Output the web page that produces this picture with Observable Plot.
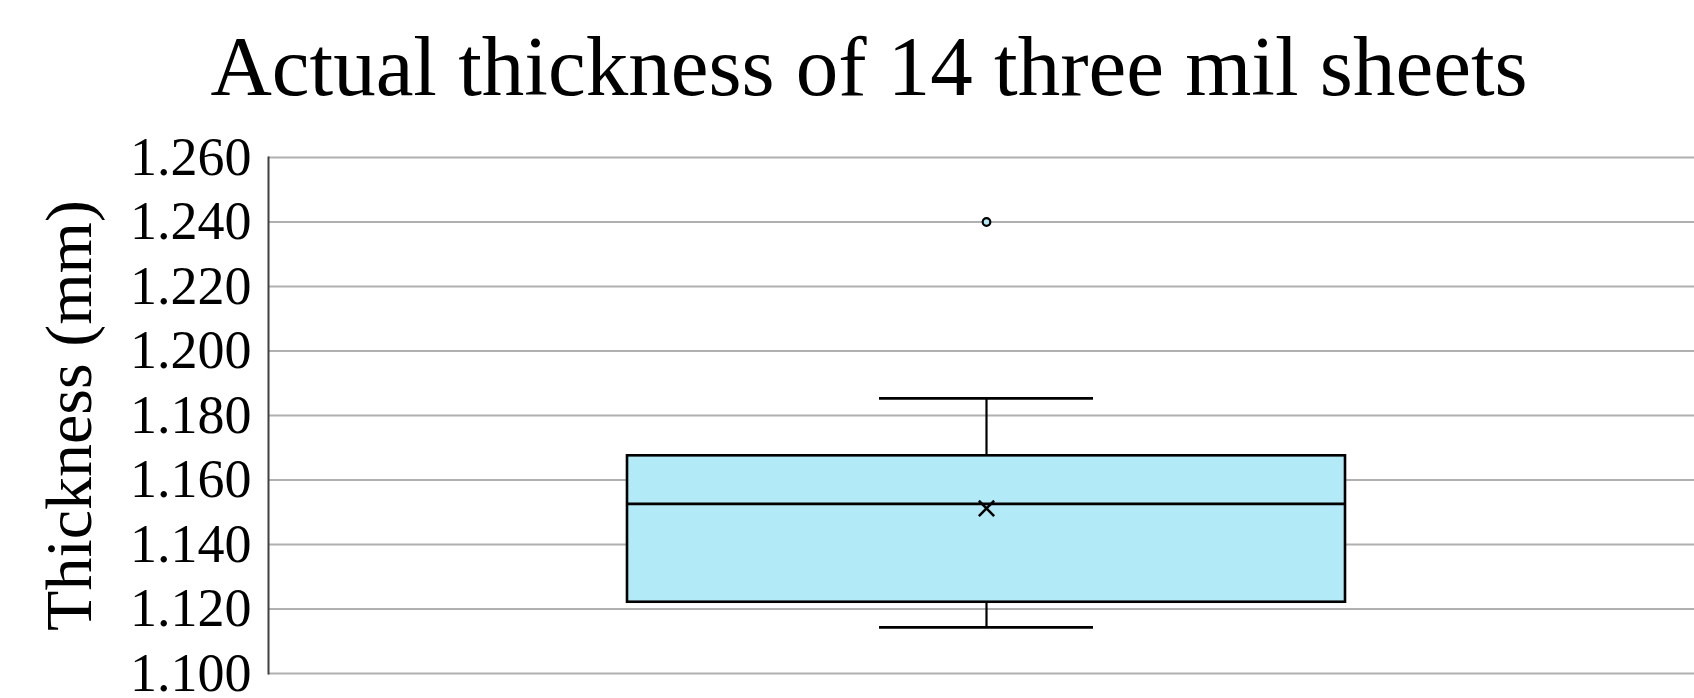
<!DOCTYPE html>
<html>
<head>
<meta charset="utf-8">
<script src="https://cdn.jsdelivr.net/npm/d3@7"></script>
<script src="https://cdn.jsdelivr.net/npm/@observablehq/plot@0.6"></script>
<style>
  html, body { margin: 0; padding: 0; background: #ffffff; overflow: hidden; }
  #wrap { position: relative; width: 1694px; height: 698px; }
  #title {
    position: absolute; left: 0; top: 24px; width: 1738px;
    text-align: center; font-family: "Liberation Serif", "Times New Roman", serif;
    font-size: 85px; line-height: 85px; color: #000;
  }
  #chart { position: absolute; left: 0; top: 0; }
</style>
</head>
<body>
<div id="wrap">
  <div id="chart"></div>
  <div id="title">Actual thickness of 14 three mil sheets</div>
</div>
<script>
// ---- Data ----
const categories = ["3 mil sheets"];
const lowerWhisker = [1.1143];
const quartile1 = [1.1221];
const medians = [1.1526];
const quartile3 = [1.1675];
const upperWhisker = [1.1853];
const means = [1.1512];
const outlierValues = [1.240];
const yTickValues = [1.100, 1.120, 1.140, 1.160, 1.180, 1.200, 1.220, 1.240, 1.260];

const stats = categories.map((c, i) => ({
  cat: c,
  lo: lowerWhisker[i],
  q1: quartile1[i],
  med: medians[i],
  q3: quartile3[i],
  hi: upperWhisker[i],
  mean: means[i]
}));
const outliers = outlierValues.map(v => ({cat: categories[0], v}));

const serif = "Liberation Serif";
const boxFill = "#B3EAF7";

const chart = Plot.plot({
  width: 1694,
  height: 698,
  marginTop: 157,
  marginBottom: 25,
  marginLeft: 268,
  marginRight: 0,
  style: {fontFamily: serif, background: "#ffffff", color: "#000"},
  x: {type: "band", domain: categories, padding: 0.33, align: 0.507, axis: null},
  y: {domain: [1.10, 1.26]},
  marks: [
    Plot.gridY(yTickValues, {stroke: "#b0b0b0", strokeOpacity: 1, strokeWidth: 2}),
    Plot.axisY(yTickValues, {
      tickSize: 0, tickPadding: 17, tickFormat: d3.format(".3f"),
      fontSize: 54, fontFamily: serif, fill: "#000", label: null, dy: 0
    }),
    Plot.axisY([], {
      tickSize: 0, label: "Thickness (mm)", labelAnchor: "center", labelOffset: 224,
      labelArrow: "none", fontSize: 66, fontFamily: serif, fill: "#000"
    }),
    Plot.frame({anchor: "left", stroke: "#404040", strokeWidth: 2}),
    // whiskers
    Plot.ruleX(stats, {x: "cat", y1: "lo", y2: "q1", stroke: "#000", strokeWidth: 2.2}),
    Plot.ruleX(stats, {x: "cat", y1: "q3", y2: "hi", stroke: "#000", strokeWidth: 2.2}),
    Plot.tickY(stats, {x: "cat", y: "lo", stroke: "#000", strokeWidth: 2.6, inset: 252}),
    Plot.tickY(stats, {x: "cat", y: "hi", stroke: "#000", strokeWidth: 2.6, inset: 252}),
    // box
    Plot.barY(stats, {x: "cat", y1: "q1", y2: "q3", fill: boxFill, stroke: "#000", strokeWidth: 2.6}),
    // median
    Plot.tickY(stats, {x: "cat", y: "med", stroke: "#000", strokeWidth: 2.6}),
    // mean
    Plot.dot(stats, {x: "cat", y: "mean", symbol: "times", r: 7, stroke: "#000", strokeWidth: 2.5}),
    // outliers
    Plot.dot(outliers, {x: "cat", y: "v", r: 3.8, fill: boxFill, stroke: "#000", strokeWidth: 2.2})
  ]
});
document.getElementById("chart").appendChild(chart);
</script>
</body>
</html>
